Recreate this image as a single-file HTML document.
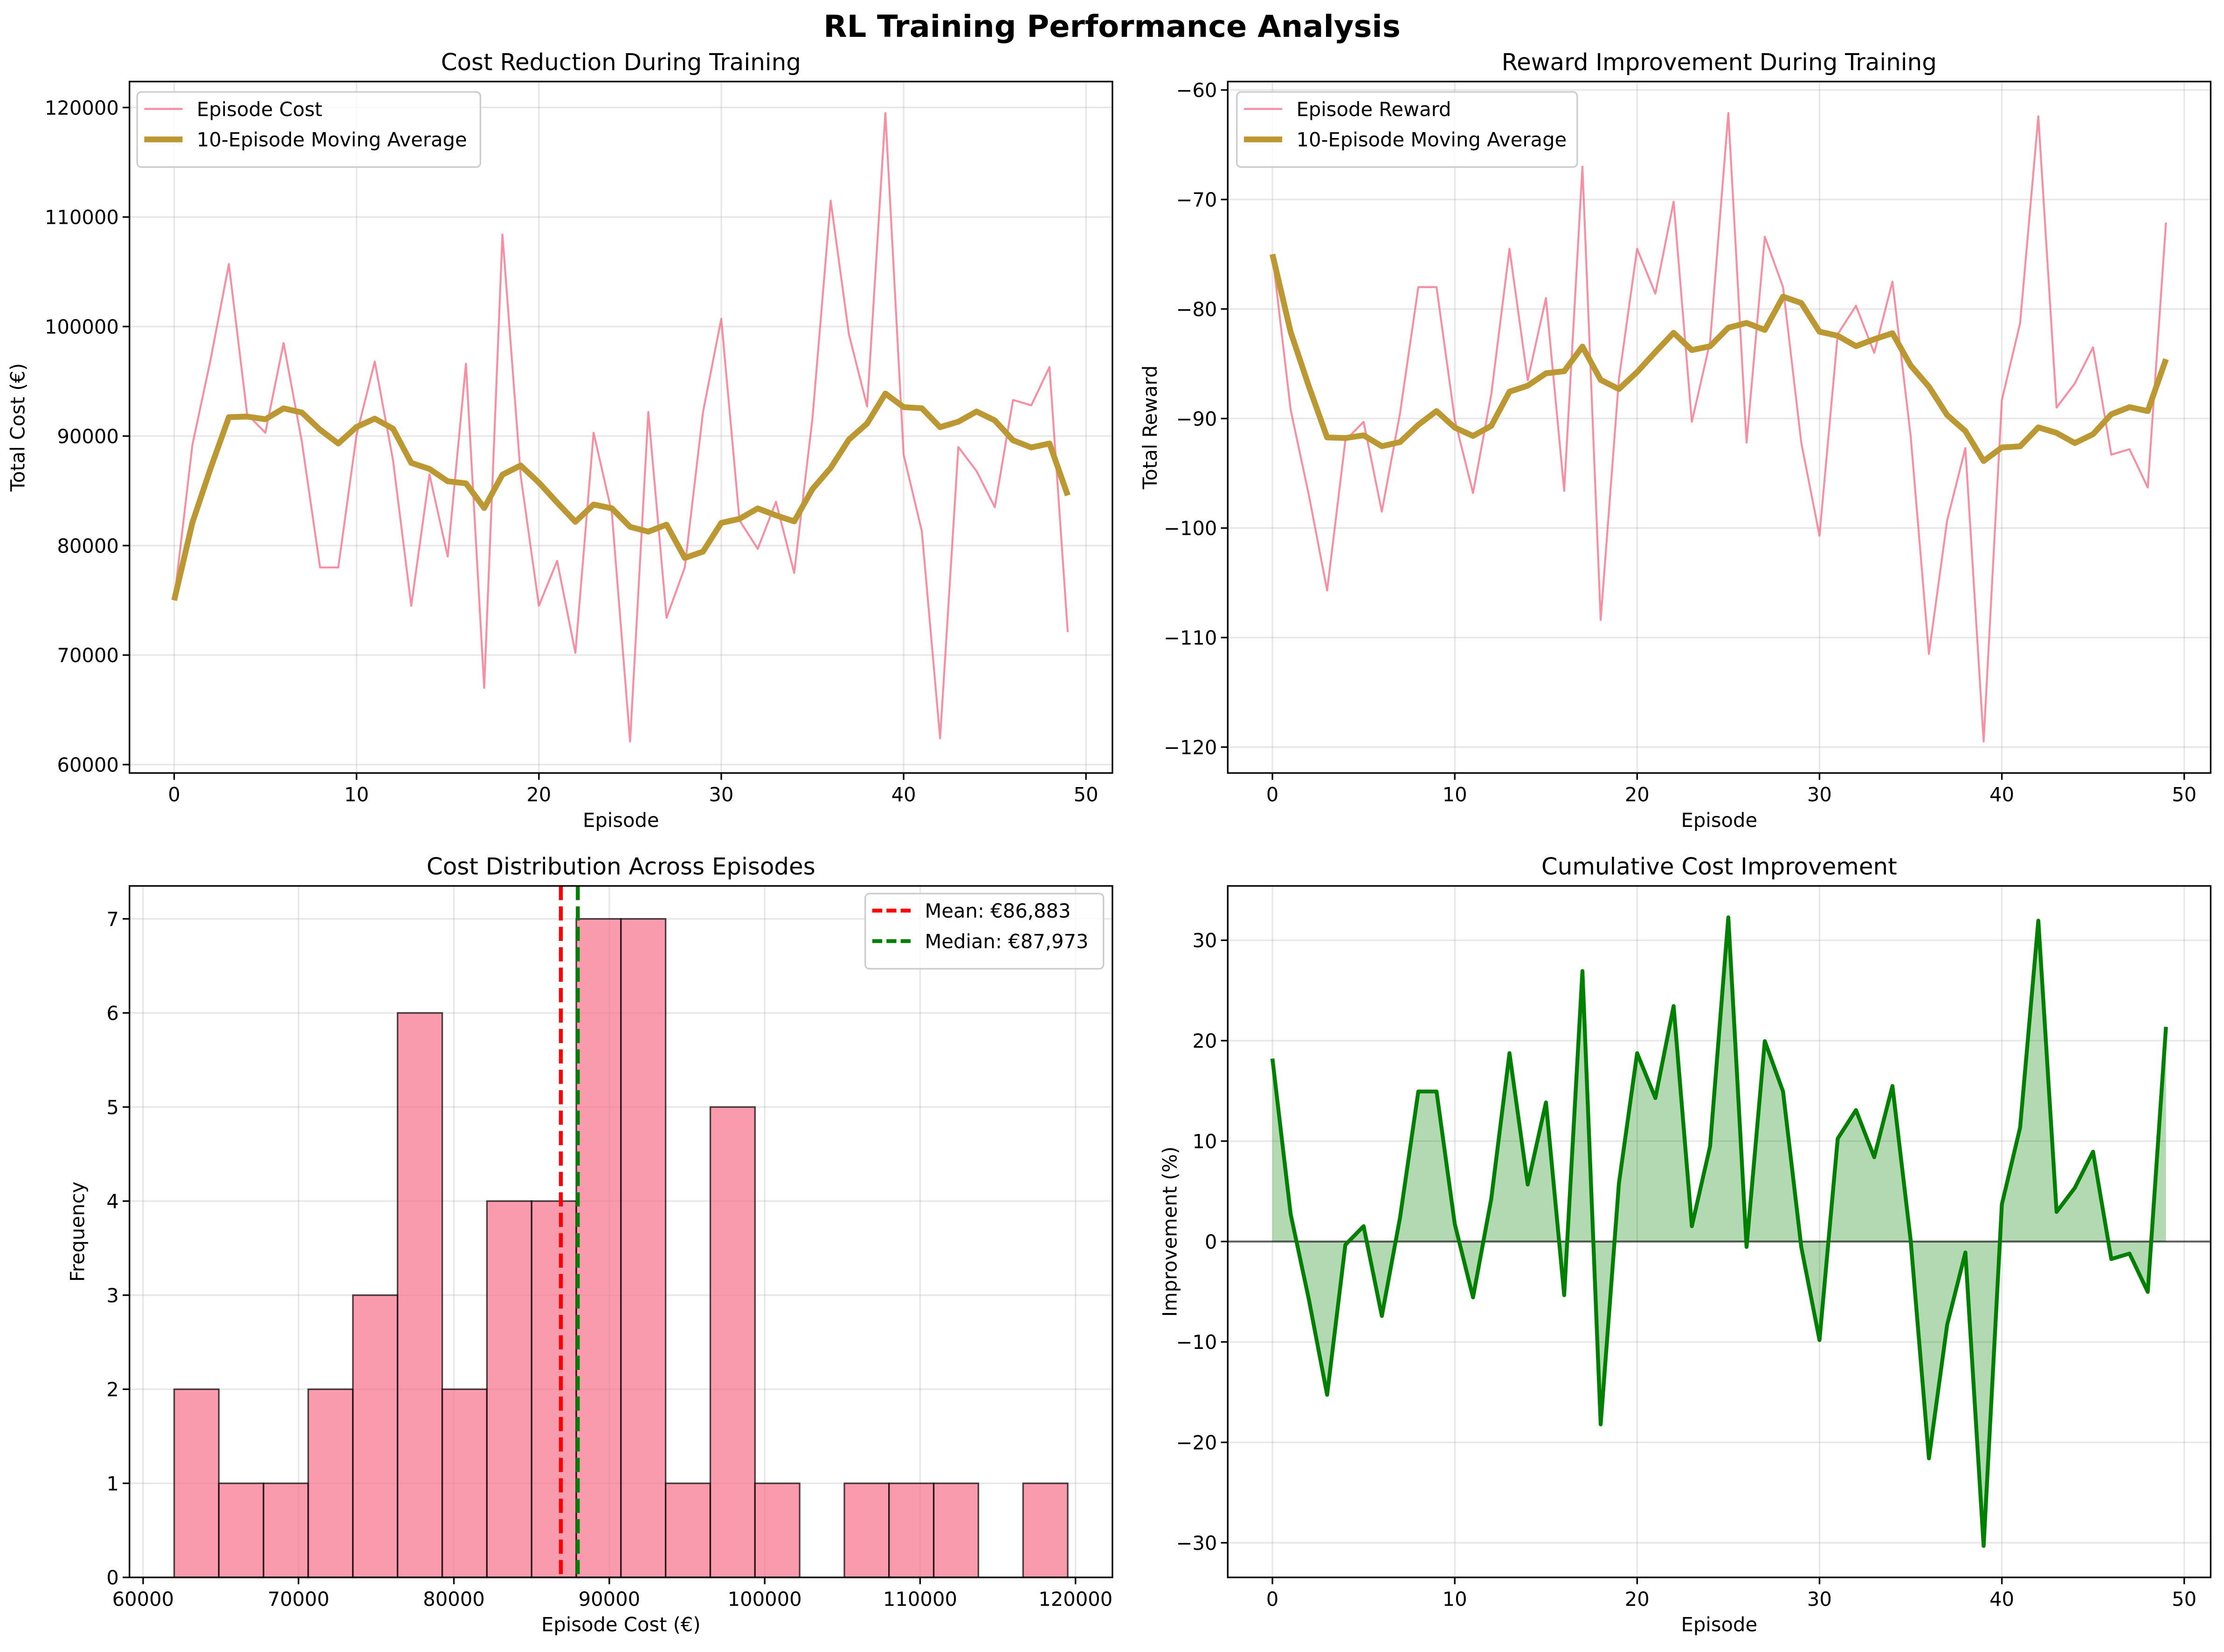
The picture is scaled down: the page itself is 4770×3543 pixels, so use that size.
<!DOCTYPE html>
<html><head><meta charset="utf-8"><style>
html,body{margin:0;padding:0;background:#fff}
svg{display:block}
text{font-family:"DejaVu Sans","Liberation Sans",sans-serif;fill:#000}
</style></head><body>
<svg id="fig" xmlns="http://www.w3.org/2000/svg" width="4770" height="3543" viewBox="0 0 1568 1164.7" preserveAspectRatio="none">
<rect x="0" y="0" width="1568" height="1164.7" fill="#fff"/>
<text x="784" y="26" font-size="21.5" font-weight="bold" text-anchor="middle">RL Training Performance Analysis</text>
</svg>
<script>
const episodes = [0,1,2,3,4,5,6,7,8,9,10,11,12,13,14,15,16,17,18,19,20,21,22,23,24,25,26,27,28,29,30,31,32,33,34,35,36,37,38,39,40,41,42,43,44,45,46,47,48,49];
const episodeCost = [75000,89200,97000,105700,92000,90300,98500,89500,78000,78000,90100,96800,87800,74500,86500,79000,96600,67000,108400,86400,74500,78600,70200,90300,83000,62100,92200,73400,78000,92200,100700,82300,79700,84000,77500,91600,111500,99300,92700,119500,88300,81300,62400,89000,86800,83500,93300,92800,96300,72100];
const movingWindow = [10];
const baselineCost = [91700];
const histCounts = [2,1,1,2,3,6,2,4,4,7,7,1,5,1,0,1,1,1,0,1];
const histRange = [62000,119500];
const meanCost = [86883];
const medianCost = [87973];
const costTicks = [60000,70000,80000,90000,100000,110000,120000];
const rewardTicks = [-120,-110,-100,-90,-80,-70,-60];
const episodeTicks = [0,10,20,30,40,50];
const freqTicks = [0,1,2,3,4,5,6,7];
const improveTicks = [-30,-20,-10,0,10,20,30];

const NS='http://www.w3.org/2000/svg';
const svg=document.getElementById('fig');
function el(tag,attrs,parent){const e=document.createElementNS(NS,tag);for(const k in attrs)e.setAttribute(k,attrs[k]);(parent||svg).appendChild(e);return e;}
function lin(d0,d1,r0,r1){return v=>r0+(v-d0)/(d1-d0)*(r1-r0);}

const rewards=episodeCost.map(c=>-c/1000);
function movAvg(a){const w=movingWindow[0];return a.map((v,i)=>{const s=a.slice(Math.max(0,i-w+1),i+1);return s.reduce((p,q)=>p+q,0)/s.length;});}
const costMA=movAvg(episodeCost), rewardMA=movAvg(rewards);
const improvement=episodeCost.map(c=>(baselineCost[0]-c)/baselineCost[0]*100);
function padLim(lo,hi){const m=(hi-lo)*0.05;return [lo-m,hi+m];}
const fs=13.7;

function panel(name,box,xlim,ylim,xticks,yticks,xfmt,yfmt,title,xlabel,ylabel){
  const g=el('g',{});
  
  
  const X=lin(xlim[0],xlim[1],box.x0,box.x1), Y=lin(ylim[0],ylim[1],box.y1,box.y0);
  xticks.forEach(t=>{const x=X(t);
    const gl=el('line',{x1:x,x2:x,y1:box.y0,y2:box.y1,stroke:'#b0b0b0','stroke-opacity':0.3,'stroke-width':1.1},g);
    
    el('line',{x1:x,x2:x,y1:box.y1,y2:box.y1+4.8,stroke:'#000','stroke-width':1.1},g);
    const tl=el('text',{x:x,y:box.y1+20,'font-size':fs,'text-anchor':'middle'},g);tl.textContent=xfmt(t);
    
  });
  yticks.forEach(t=>{const y=Y(t);
    const gl=el('line',{x1:box.x0,x2:box.x1,y1:y,y2:y,stroke:'#b0b0b0','stroke-opacity':0.3,'stroke-width':1.1},g);
    
    el('line',{x1:box.x0-4.8,x2:box.x0,y1:y,y2:y,stroke:'#000','stroke-width':1.1},g);
    const tl=el('text',{x:box.x0-7.5,y:y+5,'font-size':fs,'text-anchor':'end'},g);tl.textContent=yfmt(t);
    
  });
  const t=el('text',{x:(box.x0+box.x1)/2,y:box.y0-8,'font-size':16.4,'text-anchor':'middle'},g);t.textContent=title;
  
  const xl=el('text',{x:(box.x0+box.x1)/2,y:box.y1+38,'font-size':fs,'text-anchor':'middle'},g);xl.textContent=xlabel;
  
  const yx=box.x0-box.ylabOff;
  const yl=el('text',{x:yx,y:(box.y0+box.y1)/2,'font-size':fs,'text-anchor':'middle',transform:`rotate(-90 ${yx} ${(box.y0+box.y1)/2})`},g);yl.textContent=ylabel;
  
  const plot=el('g',{},g);
  return {g,X,Y,plot,box};
}
function frame(p){const b=p.box;const r=el('rect',{x:b.x0,y:b.y0,width:b.x1-b.x0,height:b.y1-b.y0,fill:'none',stroke:'#000','stroke-width':1.1},p.g);
  }
function path(p,xs,ys,attrs,name){const d=xs.map((x,i)=>(i?'L':'M')+p.X(x).toFixed(2)+' '+p.Y(ys[i]).toFixed(2)).join('');
  const e=el('path',Object.assign({d:d,fill:'none','stroke-linejoin':'round'},attrs),p.plot);
  return e;}
function legend(p,x,y,w,items){
  const lg=el('g',{},p.g);
  
  
  el('rect',{x:x,y:y,width:w,height:10+items.length*21.5,rx:3,fill:'#fff','fill-opacity':0.8,stroke:'#cccccc','stroke-width':1.1},lg);
  items.forEach((it,i)=>{const cy=y+12+i*21.5;
    const e=el('g',{},lg);
    
    
    el('line',Object.assign({x1:x+5,x2:x+32,y1:cy,y2:cy},it.line),e);
    const tx=el('text',{x:x+42,y:cy+5,'font-size':fs},e);tx.textContent=it.label;
  });
}
const fmtInt=v=>String(v), fmtNeg=v=>(v<0?'\u2212':'')+Math.abs(v);
const ep=[-2.45,51.45];
const pink='#f77189', gold='#bb9832';

// Top-left
const cl=padLim(Math.min(...episodeCost),Math.max(...episodeCost));
const p1=panel('cost-panel',{x0:91.3,x1:784.3,y0:57.5,y1:545,ylabOff:74},ep,cl,episodeTicks,costTicks,fmtInt,fmtInt,'Cost Reduction During Training','Episode','Total Cost (€)');
path(p1,episodes,episodeCost,{stroke:pink,'stroke-opacity':0.8,'stroke-width':1.37},'episode-cost-line');
path(p1,episodes,costMA,{stroke:gold,'stroke-width':4.1},'cost-moving-average-line');
frame(p1);
legend(p1,96.7,64.8,242,[{label:'Episode Cost',line:{stroke:pink,'stroke-opacity':0.8,'stroke-width':1.37}},{label:'10-Episode Moving Average',line:{stroke:gold,'stroke-width':4.1}}]);

// Top-right
const rl=padLim(Math.min(...rewards),Math.max(...rewards));
const p2=panel('reward-panel',{x0:865.6,x1:1558.6,y0:57.5,y1:545,ylabOff:50},ep,rl,episodeTicks,rewardTicks,fmtInt,fmtNeg,'Reward Improvement During Training','Episode','Total Reward');
path(p2,episodes,rewards,{stroke:pink,'stroke-opacity':0.8,'stroke-width':1.37},'episode-reward-line');
path(p2,episodes,rewardMA,{stroke:gold,'stroke-width':4.1},'reward-moving-average-line');
frame(p2);
legend(p2,872,64.8,240,[{label:'Episode Reward',line:{stroke:pink,'stroke-opacity':0.8,'stroke-width':1.37}},{label:'10-Episode Moving Average',line:{stroke:gold,'stroke-width':4.1}}]);

// Bottom-left histogram
const hl=padLim(histRange[0],histRange[1]);
const p3=panel('histogram-panel',{x0:91.3,x1:784.3,y0:624.6,y1:1112.1,ylabOff:32},hl,[0,Math.max(...histCounts)*1.05],costTicks,freqTicks,fmtInt,fmtInt,'Cost Distribution Across Episodes','Episode Cost (€)','Frequency');
const bw=(histRange[1]-histRange[0])/histCounts.length;
histCounts.forEach((c,i)=>{const a=histRange[0]+i*bw;
  const r=el('rect',{x:p3.X(a),y:p3.Y(c),width:p3.X(a+bw)-p3.X(a),height:p3.Y(0)-p3.Y(c),fill:pink,'fill-opacity':0.7,stroke:'#000','stroke-opacity':0.7,'stroke-width':1.1},p3.plot);
  
  
});
const ml=el('line',{x1:p3.X(meanCost[0]),x2:p3.X(meanCost[0]),y1:624.6,y2:1112.1,stroke:'#ff0000','stroke-width':2.74,'stroke-dasharray':'10 4.4'},p3.plot);

const mdl=el('line',{x1:p3.X(medianCost[0]),x2:p3.X(medianCost[0]),y1:624.6,y2:1112.1,stroke:'#008000','stroke-width':2.74,'stroke-dasharray':'10 4.4'},p3.plot);

frame(p3);
const fmtE=v=>'€'+Math.round(v).toLocaleString('en-US');
legend(p3,610,630,168,[{label:'Mean: '+fmtE(meanCost[0]),line:{stroke:'#ff0000','stroke-width':2.74,'stroke-dasharray':'7 3'}},{label:'Median: '+fmtE(medianCost[0]),line:{stroke:'#008000','stroke-width':2.74,'stroke-dasharray':'7 3'}}]);

// Bottom-right
const il=padLim(Math.min(...improvement),Math.max(...improvement));
const p4=panel('improvement-panel',{x0:865.6,x1:1558.6,y0:624.6,y1:1112.1,ylabOff:36},ep,il,episodeTicks,improveTicks,fmtInt,fmtNeg,'Cumulative Cost Improvement','Episode','Improvement (%)');
const fd=episodes.map((e,i)=>(i?'L':'M')+p4.X(e).toFixed(2)+' '+p4.Y(improvement[i]).toFixed(2)).join('')+`L${p4.X(episodes[episodes.length-1])} ${p4.Y(0)}L${p4.X(episodes[0])} ${p4.Y(0)}Z`;
const area=el('path',{d:fd,fill:'#008000','fill-opacity':0.3,stroke:'none'},p4.plot);

const zl=el('line',{x1:865.6,x2:1558.6,y1:p4.Y(0),y2:p4.Y(0),stroke:'#000','stroke-opacity':0.6,'stroke-width':1.37},p4.plot);

path(p4,episodes,improvement,{stroke:'#008000','stroke-width':2.74},'improvement-line');
frame(p4);
</script>
</body></html>
